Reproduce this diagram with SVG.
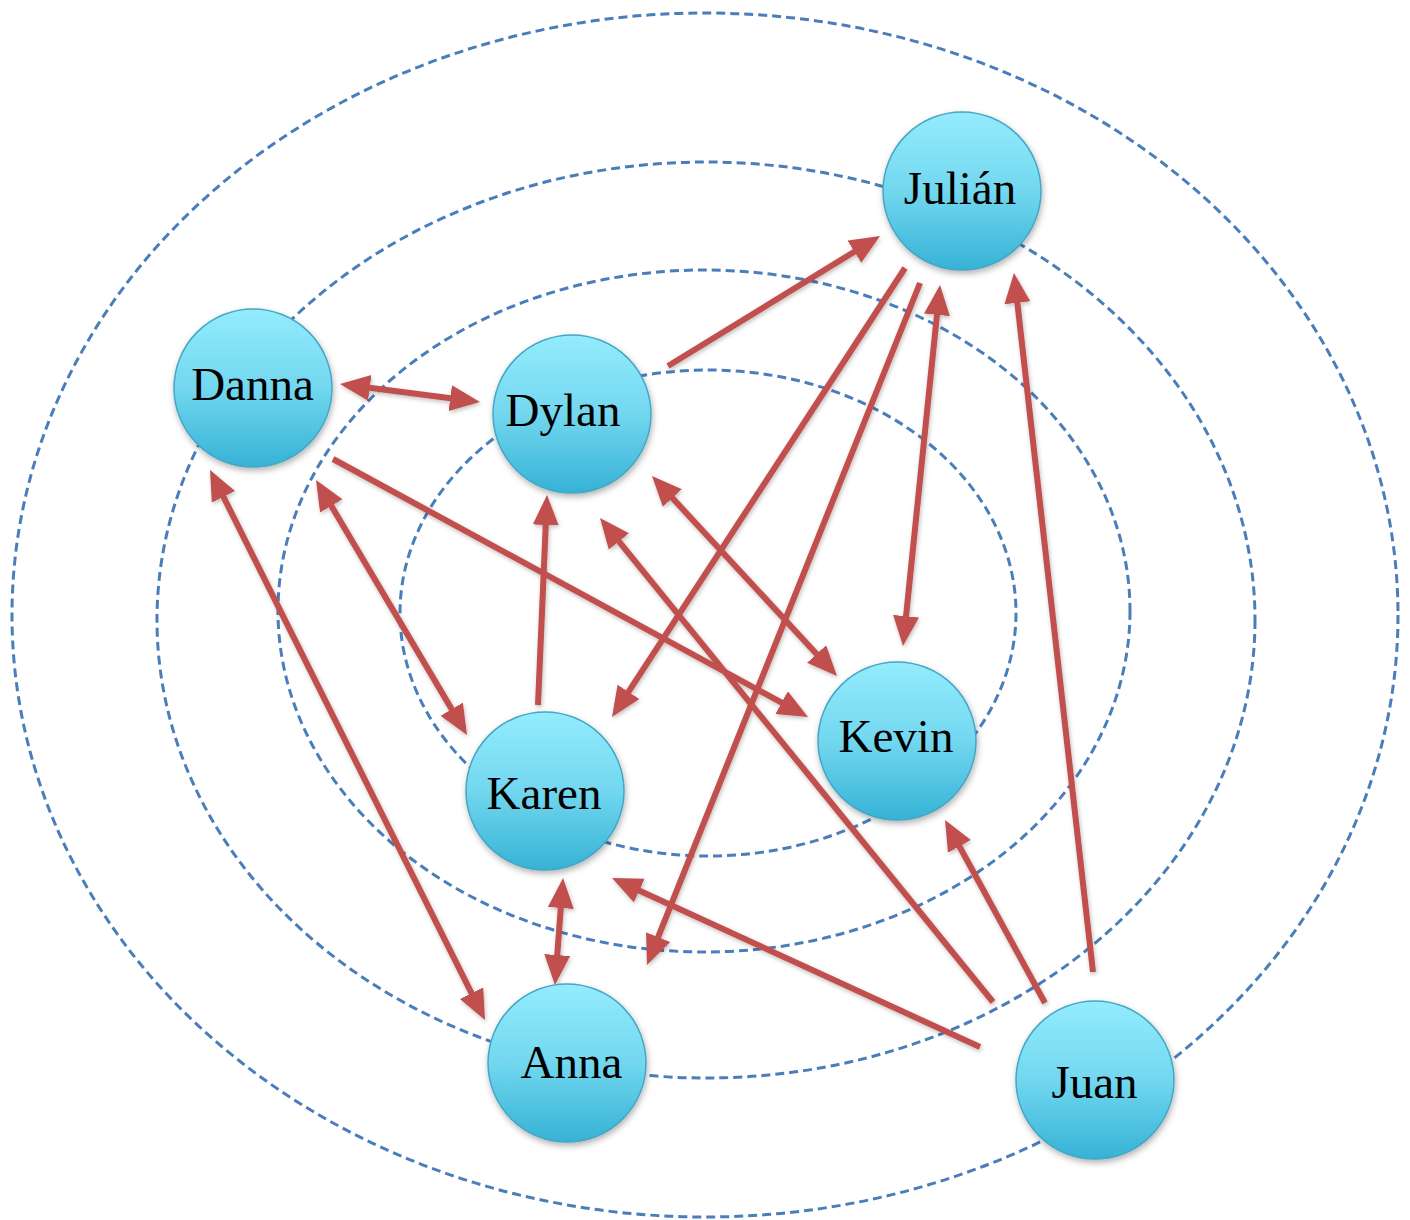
<svg xmlns="http://www.w3.org/2000/svg" width="1410" height="1220" viewBox="0 0 1410 1220">
<style>
.orbit{fill:none;stroke:#4a7ebb;stroke-width:3;stroke-dasharray:9 5}
.edge{fill:none;stroke:#c0504d;stroke-width:6;marker-end:url(#ah)}
.both{marker-start:url(#ah)}
.node circle{fill:url(#g);stroke:#45a7c3;stroke-width:1.5;filter:url(#sh)}
.node text{font-family:"Liberation Serif","Times New Roman",serif;font-size:47px;fill:#000;text-anchor:middle}
</style>
<defs>
<linearGradient id="g" x1="0" y1="0" x2="0" y2="1">
<stop offset="0" stop-color="#94ecfd"/>
<stop offset="0.5" stop-color="#72d7ef"/>
<stop offset="1" stop-color="#36b2d6"/>
</linearGradient>
<filter id="sh" x="-20%" y="-20%" width="140%" height="140%">
<feDropShadow dx="1" dy="3" stdDeviation="3" flood-color="#000" flood-opacity="0.3"/>
</filter>
<filter id="lsh" x="-10%" y="-10%" width="120%" height="120%">
<feDropShadow dx="1" dy="2" stdDeviation="2" flood-color="#000" flood-opacity="0.25"/>
</filter>
<marker id="ah" markerUnits="userSpaceOnUse" markerWidth="32" markerHeight="28" refX="20" refY="13" orient="auto-start-reverse" viewBox="0 0 32 28">
<path d="M0,0 L30,13 L0,26 z" fill="#c0504d"/>
</marker>
</defs>
<rect width="1410" height="1220" fill="#fff"/>
<g id="orbits">
<ellipse class="orbit" cx="705" cy="615" rx="693" ry="602"/>
<ellipse class="orbit" cx="706" cy="620" rx="549" ry="458"/>
<ellipse class="orbit" cx="704" cy="611" rx="426" ry="341"/>
<ellipse class="orbit" cx="708" cy="613" rx="308" ry="243"/>
</g>
<g id="connectors" filter="url(#lsh)">
<path class="edge both" d="M349.9,385.3 L470.1,400.7"/>
<path class="edge" d="M668,366 L871.5,241.2"/>
<path class="edge" d="M905,268 L617.5,708.6"/>
<path class="edge" d="M920,283 L650.7,955.7"/>
<path class="edge both" d="M939,294.9 L904,636.1"/>
<path class="edge" d="M1093,972 L1015.1,282.9"/>
<path class="edge" d="M333,459 L799.2,712.2"/>
<path class="edge both" d="M214.5,478.9 L480.5,1011.1"/>
<path class="edge both" d="M321.1,488.6 L461.9,726.4"/>
<path class="edge" d="M538,705 L546.6,505"/>
<path class="edge both" d="M658.8,483.3 L830.2,668.7"/>
<path class="edge" d="M993,1002 L606.3,525.8"/>
<path class="edge" d="M980,1047 L621.1,882.2"/>
<path class="edge" d="M1045,1003 L949.8,828.8"/>
<path class="edge both" d="M562.3,888 L555.7,975"/>
</g>
<g id="julian" class="node"><circle cx="962" cy="191" r="79"/><text x="960" y="204">Julián</text></g>
<g id="danna" class="node"><circle cx="253" cy="388" r="79"/><text x="252.5" y="400">Danna</text></g>
<g id="dylan" class="node"><circle cx="572" cy="414" r="79"/><text x="563" y="426">Dylan</text></g>
<g id="kevin" class="node"><circle cx="897" cy="741" r="79"/><text x="896" y="752">Kevin</text></g>
<g id="karen" class="node"><circle cx="545" cy="791" r="79"/><text x="544" y="809">Karen</text></g>
<g id="anna" class="node"><circle cx="567" cy="1063" r="79"/><text x="571.5" y="1078">Anna</text></g>
<g id="juan" class="node"><circle cx="1095" cy="1080" r="79"/><text x="1094.5" y="1098">Juan</text></g>
</svg>
